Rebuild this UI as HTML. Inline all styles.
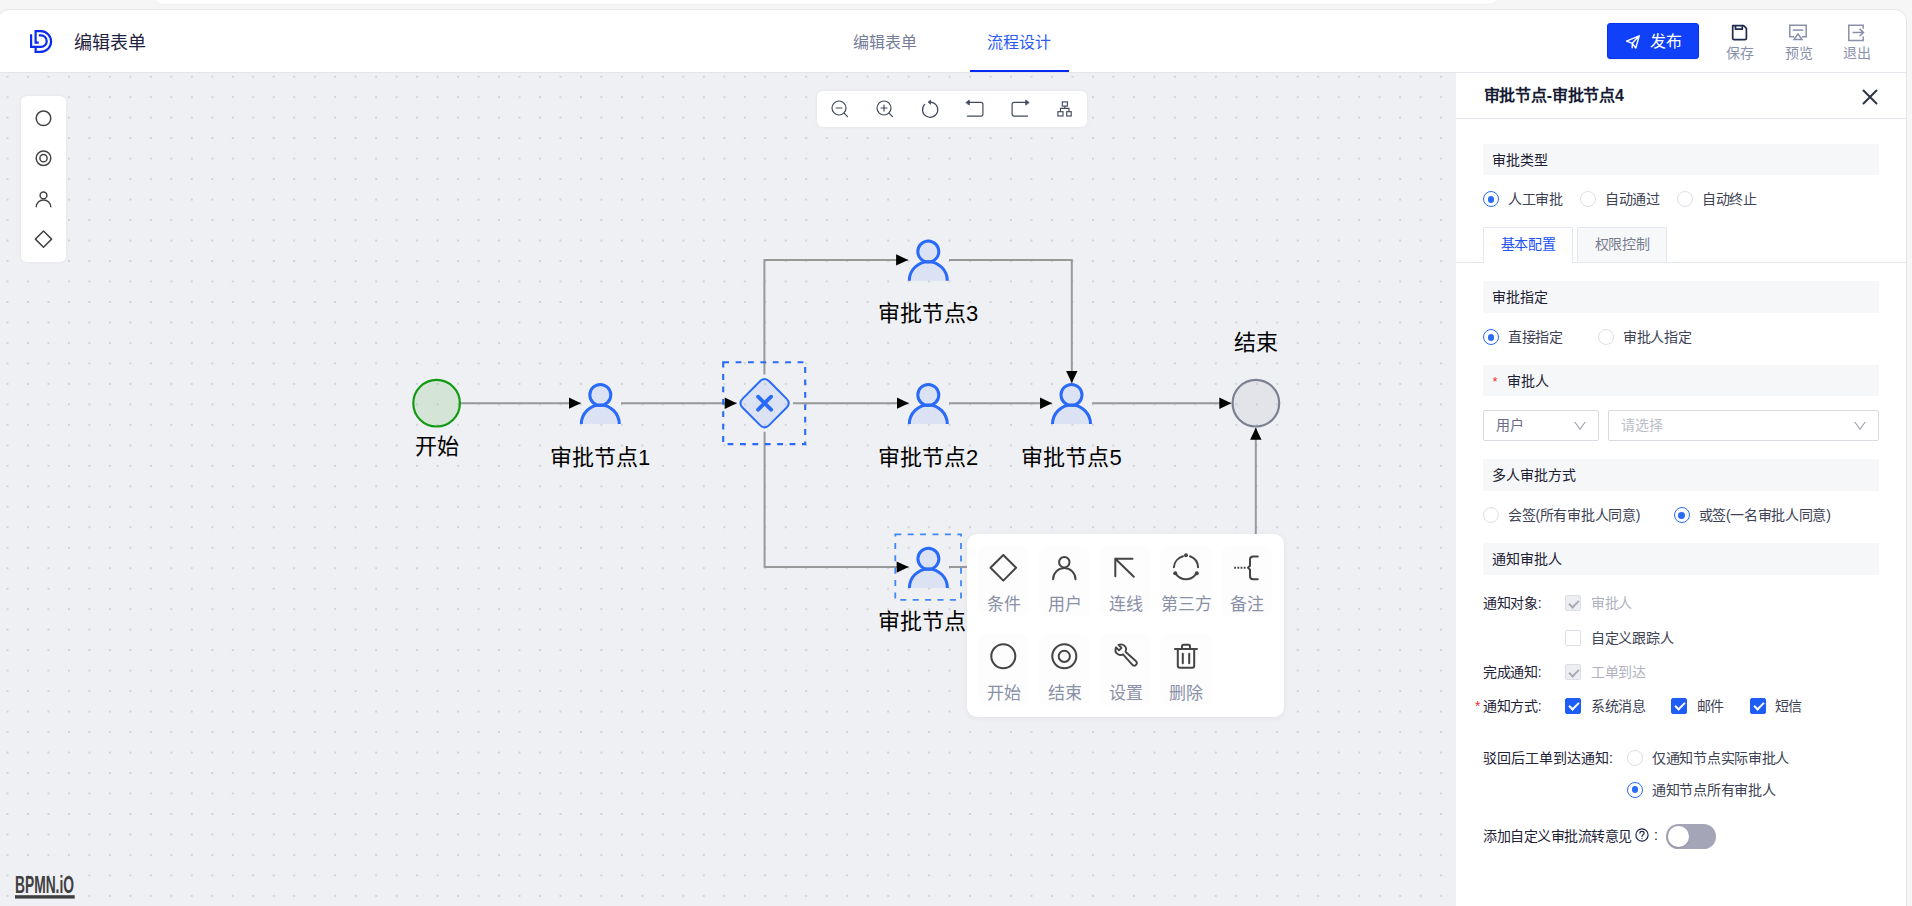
<!DOCTYPE html>
<html lang="zh-CN">
<head>
<meta charset="utf-8">
<title>流程设计</title>
<style>
*{box-sizing:border-box;margin:0;padding:0}
html,body{width:1912px;height:906px;overflow:hidden}
body{background:#f6f6f6;font-family:"Liberation Sans",sans-serif;color:#1d2129;position:relative}
.abs{position:absolute}
#topstrip{left:152px;top:-20px;width:1348px;height:24px;background:#fff;border-radius:0 0 12px 12px;box-shadow:0 0 2px rgba(0,0,0,.08)}
#card{left:-3px;top:9px;width:1910px;height:910px;background:#fff;border:1px solid #e6e6e6;border-radius:12px 12px 0 0}
#header{left:0;top:10px;width:1906px;height:63px;border-bottom:1px solid #e5e6ec}
.t{position:absolute;white-space:nowrap;line-height:1}
#canvas{left:0;top:73px;width:1456px;height:833px;background:#eff0f4;overflow:hidden}
#panel{left:1456px;top:73px;width:450px;height:833px;background:#fff}
.sec{position:absolute;left:27px;width:396px;background:#f6f7f9;font-size:14px;line-height:1;color:#1d2033;padding:8.5px 0 0 8.7px;white-space:nowrap}
.lbl{position:absolute;font-size:14px;letter-spacing:-0.3px;line-height:1;color:#3d4254;white-space:nowrap}
.radio{position:absolute;width:16px;height:16px;border-radius:50%;border:1px solid #dcdfe6;background:#fff}
.radio.on{border-color:#2b6cf6}
.radio.on::after{content:"";position:absolute;left:3.6px;top:3.6px;width:6.8px;height:6.8px;border-radius:50%;background:#2b6cf6}
.sel{position:absolute;height:31px;border:1px solid #d9dadf;border-radius:2px;background:#fff;font-size:14px;line-height:1;padding:6.8px 0 0 11.7px;white-space:nowrap}
.cb{position:absolute;width:16px;height:16px;border:1px solid #dcdfe6;border-radius:2px;background:#fff}
.cb.dis{background:#edeef2;border-color:#dcdfe6}
.cb.on{background:#1f5ef5;border-color:#1f5ef5}
.cb.dis::after,.cb.on::after{content:"";position:absolute;left:4.5px;top:1.5px;width:4px;height:8px;border:solid #fff;border-width:0 2px 2px 0;transform:rotate(45deg)}
.cb.dis::after{border-color:#a9acb6}
</style>
</head>
<body>
<div id="topstrip" class="abs"></div>
<div id="card" class="abs"></div>
<div id="header" class="abs">
  <!-- logo -->
  <svg class="abs" style="left:28px;top:18px" width="28" height="28" viewBox="28 28 28 28">
    <g fill="none" stroke="#0a2cf0" stroke-width="2.2" stroke-linejoin="miter">
      <path d="M38.8 42.6 H35.6 V31.2 H40.8 A10.3 10.3 0 0 1 40.8 51.8 H35.6 V48.1"/>
      <path d="M31.1 34.2 V46.85 H41 A5.72 5.72 0 0 0 41 35.4 H38.9"/>
    </g>
  </svg>
  <div class="t" style="left:73.5px;top:23.5px;font-size:18px;color:#1f2340">编辑表单</div>
  <div class="t" style="left:852.5px;top:25px;font-size:16px;color:#767c98">编辑表单</div>
  <div class="t" style="left:987px;top:25px;font-size:16px;color:#2b5cf6">流程设计</div>
  <div class="abs" style="left:970px;top:60px;width:99px;height:2px;background:#0229f6"></div>
  <div class="abs" style="left:1607px;top:13px;width:92px;height:36px;background:#1040f8;border:1px solid #0535f0;border-radius:3px;box-shadow:0 1px 2px rgba(0,0,0,.08)">
    <svg class="abs" style="left:17px;top:10px" width="16" height="16" viewBox="0 0 16 16" fill="none" stroke="#fff" stroke-width="1.4" stroke-linejoin="round" stroke-linecap="round">
      <path d="M1.5 7.2 L14.2 1.8 L10.8 14 L7.3 9.3 Z M7.3 9.3 L14.2 1.8 M7.3 9.3 L7.2 13.8"/>
    </svg>
    <div class="t" style="left:41.8px;top:10.3px;font-size:16px;color:#fff">发布</div>
  </div>
  <svg class="abs" style="left:1730px;top:14px" width="20" height="18" viewBox="0 0 20 18" fill="none" stroke="#1f2a4f" stroke-width="1.7" stroke-linejoin="round">
    <path d="M2.7 1.7 H13.7 L16.4 4.4 V14.2 Q16.4 15.6 15 15.6 H4.1 Q2.7 15.6 2.7 14.2 Z"/>
    <path d="M5.5 1.7 V5.2 H12.3 V1.7"/>
  </svg>
  <div class="t" style="left:1726px;top:35.5px;font-size:14px;color:#8990aa">保存</div>
  <svg class="abs" style="left:1788px;top:14px" width="20" height="19" viewBox="0 0 20 19" fill="none" stroke="#8990aa" stroke-width="1.5">
    <path d="M6.2 12.8 H1.8 V1.2 H18.2 V12.8 H13.8"/>
    <path d="M4.7 6.1 H15.3"/>
    <path d="M10 10 L14 15.6 H6 Z" fill="none"/>
  </svg>
  <div class="t" style="left:1784.5px;top:35.5px;font-size:14px;color:#8990aa">预览</div>
  <svg class="abs" style="left:1847px;top:14px" width="20" height="18" viewBox="0 0 20 18" fill="none" stroke="#8990aa" stroke-width="1.5">
    <path d="M16.2 4.8 V1.2 H1.8 V16.4 H16.2 V12.6"/>
    <path d="M5.5 8.6 H16.5 M12.6 4.9 L16.5 8.6 L12.6 12.3"/>
  </svg>
  <div class="t" style="left:1842.5px;top:35.5px;font-size:14px;color:#8990aa">退出</div>
</div>
<div id="canvas" class="abs">
<svg class="abs" style="left:0;top:0" width="1456" height="833" viewBox="0 73 1456 833">
  <defs>
    <pattern id="dots" x="7.5" y="76.7" width="20.48" height="20.48" patternUnits="userSpaceOnUse">
      <rect x="-0.8" y="-0.8" width="1.6" height="1.6" fill="#c4c5c9"/>
      <rect x="19.68" y="-0.8" width="1.6" height="1.6" fill="#c4c5c9"/>
      <rect x="-0.8" y="19.68" width="1.6" height="1.6" fill="#c4c5c9"/>
      <rect x="19.68" y="19.68" width="1.6" height="1.6" fill="#c4c5c9"/>
    </pattern>
    <marker id="arr" viewBox="0 0 13 12" refX="12.3" refY="6" markerWidth="13" markerHeight="12" markerUnits="userSpaceOnUse" orient="auto">
      <path d="M0.3 0.3 L12.3 6 L0.3 11.7 Z" fill="#000"/>
    </marker>
    <g id="user" fill="rgba(42,106,248,0.1)" stroke="#2a6af8" stroke-width="3">
      <path d="M-19 20.8 A19 19 0 0 1 19 20.8" />
      <circle cx="0" cy="-8.3" r="10.5"/>
    </g>
  </defs>
  <rect x="0" y="73" width="1456" height="833" fill="url(#dots)"/>
  <g fill="none" stroke="#999" stroke-width="2">
    <path d="M460.6 403.2 H580.8" marker-end="url(#arr)"/>
    <path d="M621 403.2 H736.7" marker-end="url(#arr)"/>
    <path d="M792.9 403.2 H908.8" marker-end="url(#arr)"/>
    <path d="M949 403.2 H1052" marker-end="url(#arr)"/>
    <path d="M1092.2 403.2 H1231.3" marker-end="url(#arr)"/>
    <path d="M764.4 374.4 V259.9 H908.1" marker-end="url(#arr)"/>
    <path d="M949 259.9 H1071.8 V383" marker-end="url(#arr)"/>
    <path d="M764.6 431.8 V567.1 H908.6" marker-end="url(#arr)"/>
    <path d="M949 567.1 H1255.8 V427.7" marker-end="url(#arr)"/>
  </g>
  <!-- start -->
  <circle cx="436.6" cy="403.2" r="23.3" fill="#129b12" fill-opacity="0.12" stroke="#129b12" stroke-width="2.2"/>
  <!-- end -->
  <circle cx="1255.9" cy="403.2" r="23.3" fill="#7b8191" fill-opacity="0.1" stroke="#7b8191" stroke-width="2.2"/>
  <!-- gateway -->
  <g transform="translate(764.6 403.2)">
    <path d="M-4.6 -21.9 Q0 -26.5 4.6 -21.9 L21.9 -4.6 Q26.5 0 21.9 4.6 L4.6 21.9 Q0 26.5 -4.6 21.9 L-21.9 4.6 Q-26.5 0 -21.9 -4.6 Z" fill="#2a6af8" fill-opacity="0.1" stroke="#2a6af8" stroke-width="2"/>
    <path d="M-6.5 -6.5 L6.5 6.5 M6.5 -6.5 L-6.5 6.5" stroke="#2a6af8" stroke-width="3.8" stroke-linecap="round"/>
  </g>
  <rect x="723.2" y="362.3" width="82" height="81.8" fill="none" stroke="#2a6af8" stroke-width="2.1" stroke-dasharray="5.8 6.6"/>
  <rect x="895.3" y="534.3" width="65.7" height="65.6" fill="none" stroke="#3f86f8" stroke-width="1.8" stroke-dasharray="6 6.4"/>
  <!-- users -->
  <use href="#user" x="600.3" y="403.2"/>
  <use href="#user" x="928.3" y="403.2"/>
  <use href="#user" x="928.3" y="259.9"/>
  <use href="#user" x="1071.5" y="403.2"/>
  <use href="#user" x="928.4" y="567.1"/>
  <g font-family="Liberation Sans, sans-serif" font-size="22" fill="#000" text-anchor="middle">
    <text x="436.8" y="454">开始</text>
    <text x="600" y="465">审批节点1</text>
    <text x="928" y="321">审批节点3</text>
    <text x="928" y="465">审批节点2</text>
    <text x="1071.5" y="465">审批节点5</text>
    <text x="1256" y="350">结束</text>
    <text x="878.3" y="629" text-anchor="start">审批节点</text>
  </g>
</svg>
<!-- palette -->
<div class="abs" style="left:21px;top:23px;width:45px;height:166px;background:#fff;border-radius:6px;box-shadow:0 0 4px rgba(0,0,0,.05)">
  <svg class="abs" style="left:0;top:0" width="45" height="166" viewBox="0 0 45 166" fill="none" stroke="#444" stroke-width="1.5">
    <circle cx="22.5" cy="22.3" r="7.3"/>
    <circle cx="22.5" cy="62.2" r="7.3"/>
    <circle cx="22.5" cy="62.2" r="3.6"/>
    <circle cx="22.5" cy="99.4" r="3.4"/>
    <path d="M15.2 111.2 a7.3 7.3 0 0 1 14.6 0"/>
    <path d="M22.5 135 l8.1 8.1 -8.1 8.1 -8.1 -8.1 z" stroke-linejoin="round"/>
  </svg>
</div>
<!-- toolbar -->
<div class="abs" style="left:817px;top:18px;width:270px;height:36px;background:#fff;border-radius:6px;box-shadow:0 0 4px rgba(0,0,0,.05)">
  <svg class="abs" style="left:0;top:0" width="270" height="36" viewBox="0 0 270 36" fill="none" stroke="#434a5e" stroke-width="1.2" stroke-linecap="round" stroke-linejoin="round">
    <g transform="translate(22.5 18)"><circle cx="-0.5" cy="-1" r="7"/><path d="M4.6 4.1 L8 7.6 M-3.3 -1 H2.3"/></g>
    <g transform="translate(67.5 18)"><circle cx="-0.5" cy="-1" r="7"/><path d="M4.6 4.1 L8 7.6 M-3.5 -1 H2.5 M-0.5 -4 V2"/></g>
    <g transform="translate(113 18)"><path d="M0 -6.9 A7.6 7.6 0 1 1 -5.3 -4.6"/><path d="M-1.6 -7 L0.6 -8.8 L0.6 -5.2 Z" fill="#434a5e" stroke-width="0.9"/></g>
    <g transform="translate(157.5 18)"><path d="M-5.6 -6.6 H6.4 Q8.4 -6.6 8.4 -4.6 V5.2 Q8.4 7.2 6.4 7.2 H-7"/><path d="M-8.4 -6.6 L-5.2 -8.9 L-5.2 -4.3 Z" fill="#434a5e" stroke-width="0.8"/></g>
    <g transform="translate(202.5 18)"><path d="M6.4 -6.6 H-5.4 Q-7.4 -6.6 -7.4 -4.6 V5.2 Q-7.4 7.2 -5.4 7.2 H8"/><path d="M9.4 -6.6 L6.2 -8.9 L6.2 -4.3 Z" fill="#434a5e" stroke-width="0.8"/></g>
    <g transform="translate(247.5 18)" stroke-width="1.15" stroke-linecap="butt" stroke-linejoin="miter"><rect x="-2.2" y="-7.1" width="5.1" height="4.2"/><rect x="-6.6" y="2.7" width="5.1" height="4.3"/><rect x="2.2" y="2.7" width="4.5" height="4.3"/><path d="M0.35 -2.9 V-0.6 M-4.05 2.7 V-0.6 H4.45 V2.7"/></g>
  </svg>
</div>
<!-- bpmn.io -->
<svg class="abs" style="left:14px;top:802px" width="64" height="26" viewBox="0 0 64 26">
  <text x="1" y="18" font-family="Liberation Sans, sans-serif" font-weight="bold" font-size="23.3" fill="#404040" textLength="59" lengthAdjust="spacingAndGlyphs">BPMN.iO</text>
  <rect x="1" y="20.2" width="59.7" height="3.4" fill="#404040"/>
</svg>
<!-- context pad -->
<div class="abs" style="left:967px;top:461.4px;width:317px;height:183px;background:#fff;border-radius:10px;box-shadow:0 1px 6px rgba(0,0,0,.06)">
  <div class="abs" style="left:10.5px;top:11.6px;width:51.6px;height:70.5px;border-radius:8px;background:#fdfdfe"></div><div class="abs" style="left:71.5px;top:11.6px;width:51.6px;height:70.5px;border-radius:8px;background:#fdfdfe"></div><div class="abs" style="left:132.2px;top:11.6px;width:51.6px;height:70.5px;border-radius:8px;background:#fdfdfe"></div><div class="abs" style="left:193.2px;top:11.6px;width:51.6px;height:70.5px;border-radius:8px;background:#fdfdfe"></div><div class="abs" style="left:253.9px;top:11.6px;width:51.6px;height:70.5px;border-radius:8px;background:#fdfdfe"></div><div class="abs" style="left:10.5px;top:100.1px;width:51.6px;height:70.5px;border-radius:8px;background:#fdfdfe"></div><div class="abs" style="left:71.5px;top:100.1px;width:51.6px;height:70.5px;border-radius:8px;background:#fdfdfe"></div><div class="abs" style="left:132.2px;top:100.1px;width:51.6px;height:70.5px;border-radius:8px;background:#fdfdfe"></div><div class="abs" style="left:193.2px;top:100.1px;width:51.6px;height:70.5px;border-radius:8px;background:#fdfdfe"></div>
  <svg class="abs" style="left:0;top:0" width="317" height="183" viewBox="0 0 317 183" fill="none" stroke="#444" stroke-width="2" stroke-linecap="round" stroke-linejoin="round">
    <path d="M36.3 21 L49.1 33.8 L36.3 46.6 L23.5 33.8 Z"/>
    <g transform="translate(97.3 33.8)"><circle cx="0" cy="-5.6" r="5.2"/><path d="M-11.2 11.5 A11.2 11.2 0 0 1 11.2 11.5"/></g>
    <path d="M148.3 24.8 L166.8 42.8 M148.3 24.8 H165.5 M148.3 24.8 V42.2"/>
    <g transform="translate(219 33.8)"><path d="M-12.1 -0.5 A12.3 12.3 0 0 1 -3 -11.5 M4 -11.5 A12.3 12.3 0 0 1 12.1 -0.5 M9.8 6.6 A12.3 12.3 0 0 1 -9.8 6.6"/><circle cx="0" cy="-12.5" r="2" fill="#444" stroke="none"/><circle cx="-10.8" cy="5.4" r="2" fill="#444" stroke="none"/><circle cx="10.8" cy="5.4" r="2" fill="#444" stroke="none"/></g>
    <path d="M290.8 22.4 H286.2 Q283 22.4 283 25.6 V31.8 L281 33.7 L283 35.6 V42 Q283 45.2 286.2 45.2 H290.8"/><path d="M267.2 33.7 H279" stroke-dasharray="1.8 1.4" stroke-linecap="butt"/>
    <circle cx="36.3" cy="122.3" r="12"/>
    <g transform="translate(97.3 122.3)"><circle r="12"/><circle r="5.6"/></g>
    <g transform="translate(158 122.3)"><path d="M-6.5 -11.5 L-3.5 -8.5 L-6 -6 L-9 -9 Q-11 -4.5 -7 -2 Q-4.5 -0.5 -2 -2 L7 8 Q9 10.5 11 8.5 Q13 6.5 10.5 4.5 L0.5 -4.5 Q2 -7 0.5 -9.5 Q-2 -13 -6.5 -11.5 Z" stroke-width="1.9"/></g>
    <g transform="translate(219 122.3)"><path d="M-11 -7.2 H11 M-4 -7.2 V-10 Q-4 -11.5 -2.5 -11.5 H2.5 Q4 -11.5 4 -10 V-7.2 M-8.2 -7.2 V9.5 Q-8.2 11.5 -6.2 11.5 H6.2 Q8.2 11.5 8.2 9.5 V-7.2 M-3.2 -2.5 V7 M3.2 -2.5 V7"/></g>
  </svg>
  <div class="t" style="left:20px;top:62px;font-size:17px;color:#8a90a6">条件</div>
  <div class="t" style="left:81px;top:62px;font-size:17px;color:#8a90a6">用户</div>
  <div class="t" style="left:142px;top:62px;font-size:17px;color:#8a90a6">连线</div>
  <div class="t" style="left:193.5px;top:62px;font-size:17px;color:#8a90a6">第三方</div>
  <div class="t" style="left:263px;top:62px;font-size:17px;color:#8a90a6">备注</div>
  <div class="t" style="left:20px;top:150.5px;font-size:17px;color:#8a90a6">开始</div>
  <div class="t" style="left:81px;top:150.5px;font-size:17px;color:#8a90a6">结束</div>
  <div class="t" style="left:142px;top:150.5px;font-size:17px;color:#8a90a6">设置</div>
  <div class="t" style="left:202px;top:150.5px;font-size:17px;color:#8a90a6">删除</div>
</div>
</div>
<div id="panel" class="abs">
  <div class="t" style="left:27.5px;top:14.5px;font-size:16px;font-weight:bold;color:#151a33;letter-spacing:-0.2px">审批节点-审批节点4</div>
  <svg class="abs" style="left:406px;top:16px" width="16" height="16" viewBox="0 0 16 16" stroke="#2e3443" stroke-width="2" stroke-linecap="round"><path d="M1.5 1.5 L14.5 14.5 M14.5 1.5 L1.5 14.5"/></svg>
  <div class="abs" style="left:0;top:44.5px;width:450px;height:1px;background:#e5e6eb"></div>

  <div class="sec" style="top:71px;height:31px">审批类型</div>
  <div class="radio on" style="left:27px;top:118.3px"></div><div class="lbl" style="left:52px;top:119.3px">人工审批</div>
  <div class="radio" style="left:124px;top:118.3px"></div><div class="lbl" style="left:149px;top:119.3px">自动通过</div>
  <div class="radio" style="left:221px;top:118.3px"></div><div class="lbl" style="left:246px;top:119.3px">自动终止</div>

  <div class="abs" style="left:0;top:189px;width:450px;height:1px;background:#e4e7ed"></div>
  <div class="abs" style="left:27px;top:154px;width:90px;height:36px;background:#fff;border:1px solid #e4e7ed;border-bottom:none;border-radius:2px 2px 0 0"></div>
  <div class="abs" style="left:121px;top:154px;width:90px;height:35px;background:#f7f8fa;border:1px solid #e4e7ed;border-bottom:none;border-radius:2px 2px 0 0"></div>
  <div class="lbl" style="left:44.5px;top:164px;color:#2052f5">基本配置</div>
  <div class="lbl" style="left:138.5px;top:164px;color:#777d8e">权限控制</div>

  <div class="sec" style="top:208px;height:32px">审批指定</div>
  <div class="radio on" style="left:27px;top:256.3px"></div><div class="lbl" style="left:52px;top:257.3px">直接指定</div>
  <div class="radio" style="left:142px;top:256.3px"></div><div class="lbl" style="left:167px;top:257.3px">审批人指定</div>

  <div class="sec" style="top:292px;height:31px"><span style="color:#f23030;position:absolute;left:9.5px;top:10px;font-size:13px">*</span><span style="position:absolute;left:24px;top:8.5px">审批人</span></div>
  <div class="sel" style="left:27px;top:337px;width:116px"><span style="color:#676d88">用户</span></div>
  <svg class="abs" style="left:118px;top:347px" width="12" height="10" viewBox="0 0 12 10" fill="none" stroke="#989db0" stroke-width="1.1"><path d="M0.8 2 L6 9.2 L11.2 2"/></svg>
  <div class="sel" style="left:152px;top:337px;width:271px"><span style="color:#bcbfc9">请选择</span></div>
  <svg class="abs" style="left:397.5px;top:347px" width="12" height="10" viewBox="0 0 12 10" fill="none" stroke="#989db0" stroke-width="1.1"><path d="M0.8 2 L6 9.2 L11.2 2"/></svg>

  <div class="sec" style="top:386px;height:32px">多人审批方式</div>
  <div class="radio" style="left:27px;top:434.2px"></div><div class="lbl" style="left:52px;top:435.2px">会签(所有审批人同意)</div>
  <div class="radio on" style="left:217.5px;top:434.2px"></div><div class="lbl" style="left:242.5px;top:435.2px">或签(一名审批人同意)</div>

  <div class="sec" style="top:470px;height:32px">通知审批人</div>
  <div class="lbl" style="left:27px;top:523.3px;color:#1f2337">通知对象:</div>
  <div class="cb dis" style="left:109px;top:522.3px"></div><div class="lbl" style="left:135px;top:523.3px;color:#b0b3bf">审批人</div>
  <div class="cb" style="left:109px;top:556.8px"></div><div class="lbl" style="left:135px;top:557.8px">自定义跟踪人</div>
  <div class="lbl" style="left:27px;top:592.2px;color:#1f2337">完成通知:</div>
  <div class="cb dis" style="left:109px;top:591.2px"></div><div class="lbl" style="left:135px;top:592.2px;color:#b0b3bf">工单到达</div>
  <div class="lbl" style="left:19px;top:625.8px;color:#f23030">*</div>
  <div class="lbl" style="left:27px;top:625.8px;color:#1f2337">通知方式:</div>
  <div class="cb on" style="left:109px;top:624.8px"></div><div class="lbl" style="left:135px;top:625.8px">系统消息</div>
  <div class="cb on" style="left:215px;top:624.8px"></div><div class="lbl" style="left:240.5px;top:625.8px">邮件</div>
  <div class="cb on" style="left:294px;top:624.8px"></div><div class="lbl" style="left:318.5px;top:625.8px">短信</div>

  <div class="lbl" style="left:27px;top:678.2px;color:#1f2337;letter-spacing:0">驳回后工单到达通知:</div>
  <div class="radio" style="left:171px;top:677.2px"></div><div class="lbl" style="left:196px;top:678.2px">仅通知节点实际审批人</div>
  <div class="radio on" style="left:171px;top:708.9px"></div><div class="lbl" style="left:196px;top:709.9px">通知节点所有审批人</div>

  <div class="lbl" style="left:27px;top:756.1px;color:#1f2337;letter-spacing:-0.5px">添加自定义审批流转意见</div>
  <svg class="abs" style="left:178.5px;top:754.9px" width="14" height="14" viewBox="0 0 14 14" fill="none" stroke="#1a2240" stroke-width="1.15"><circle cx="7" cy="7" r="6.1"/><path d="M4.9 5.3 Q4.9 3.4 7 3.4 Q9.1 3.4 9.1 5.2 Q9.1 6.4 7.7 7 Q7 7.3 7 8.6" stroke-linecap="round"/><circle cx="7" cy="10.6" r=".65" fill="#1a2240" stroke="none"/></svg>
  <div class="lbl" style="left:198px;top:755px;color:#1f2337">:</div>
  <div class="abs" style="left:210.3px;top:751.2px;width:50px;height:24.6px;border-radius:12.3px;background:#a5a5b8"></div>
  <div class="abs" style="left:212.3px;top:753.2px;width:20.6px;height:20.6px;border-radius:50%;background:#fff;box-shadow:0 1px 2px rgba(0,0,0,.15)"></div>
</div>
</body>
</html>
